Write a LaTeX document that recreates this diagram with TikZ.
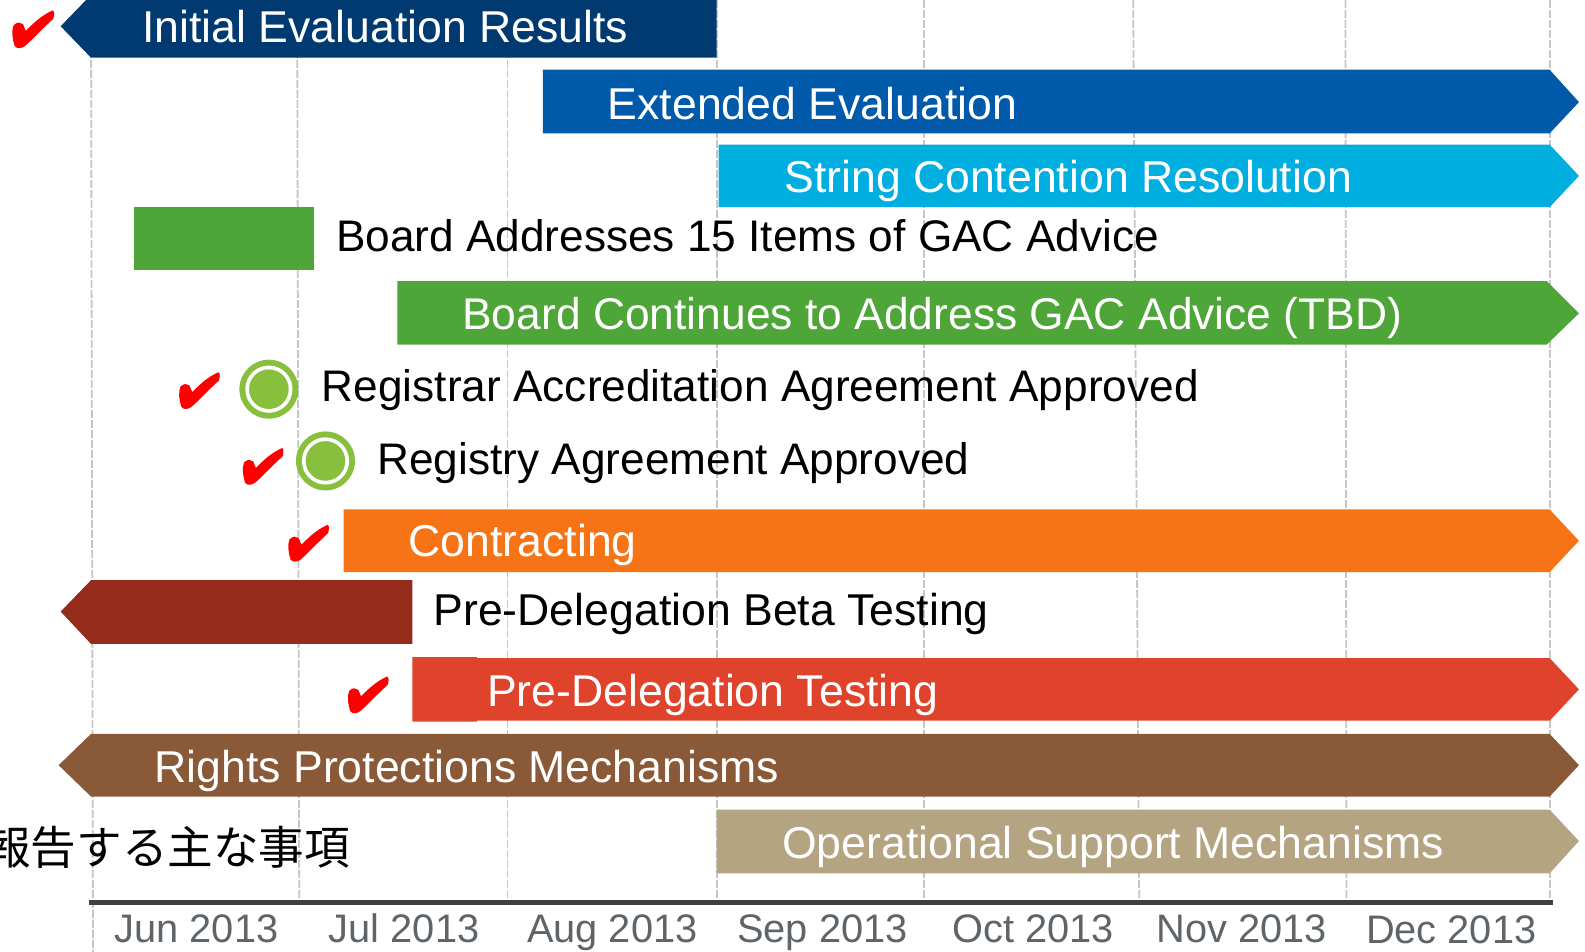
\documentclass[tikz,border=0pt]{standalone}
\usepackage{fontspec}
\setmainfont{Liberation Sans}
\newfontfamily\jpfont{Noto Sans CJK JP}
\definecolor{cInit}{HTML}{003A70}
\definecolor{cExt}{HTML}{0059A9}
\definecolor{cStr}{HTML}{00AEE0}
\definecolor{cGrn}{HTML}{4FA638}
\definecolor{cOrg}{HTML}{F77416}
\definecolor{cBeta}{HTML}{952B1B}
\definecolor{cPre}{HTML}{E0432B}
\definecolor{cRpm}{HTML}{8A5A38}
\definecolor{cOps}{HTML}{B4A482}
\definecolor{cDot}{HTML}{88BF3C}
\definecolor{cGrid}{HTML}{C6C6C6}
\definecolor{cAxis}{HTML}{404040}
\definecolor{cDate}{HTML}{5F6468}
\tikzset{
  x=0.5055pt,y=-0.5055pt,
  gridline/.style={draw=cGrid,line width=0.9pt,dash pattern=on 4pt off 1pt},
  onbar/.style={anchor=base west,inner sep=0pt,text=white,font=\fontsize{22.3pt}{26pt}\selectfont},
  plain/.style={anchor=base west,inner sep=0pt,text=black,font=\fontsize{22.1pt}{26pt}\selectfont},
  datelabel/.style={anchor=base west,inner sep=0pt,text=cDate,font=\fontsize{19.9pt}{24pt}\selectfont},
  tickmark/.style={fill=red,draw=red,line width=0.7pt,line join=round},
  dotouter/.style={circle,fill=cDot,draw=none,minimum size=29.5pt,inner sep=0pt},
  dotring/.style={circle,fill=white,draw=none,minimum size=23.6pt,inner sep=0pt},
  dotinner/.style={circle,fill=cDot,draw=none,minimum size=19.8pt,inner sep=0pt}
}
\newcommand{\chk}[3]{%
  \filldraw[tickmark,shift={(#1,#2)},scale=#3]
    (38,1) .. controls (39,2) and (39,6) .. (38,8)
    .. controls (28,17) and (19,27) .. (11,34)
    .. controls (8,36) and (4,37) .. (2,34)
    .. controls (0,28) and (-1,20) .. (1,15)
    .. controls (4,12) and (7,12) .. (9,14)
    .. controls (10,17) and (11,19) .. (12,21)
    .. controls (19,14) and (27,6) .. (38,1) -- cycle;}
\begin{document}
\begin{tikzpicture}
\useasboundingbox (0,0) rectangle (1568,941.7);
\clip (0,0) rectangle (1568,941.7);
% grid
\draw[gridline] (90,0) -- (92,941.7);
\draw[gridline] (294,0) -- (296,893);
\draw[gridline] (502,0) -- (502,893);
\draw[gridline] (709,0) -- (709,893);
\draw[gridline] (914,0) -- (914,893);
\draw[gridline] (1121,0) -- (1127,893);
\draw[gridline] (1331,0) -- (1332,893);
\draw[gridline] (1533,0) -- (1533,893);
% axis
\draw[cAxis,line width=2.2pt] (88,893) -- (1536,893);
% bars
\fill[cInit] (60,26) -- (90,-5) -- (709,-5) -- (709,57) -- (90,57) -- cycle;
\fill[cExt] (537,69) -- (1533,69) -- (1562,101) -- (1533,132) -- (537,132) -- cycle;
\fill[cStr] (711,143) -- (1533,143) -- (1562,174) -- (1533,205) -- (711,205) -- cycle;
\fill[cGrn] (133,205) rectangle (311,267);
\fill[cGrn] (393,278) -- (1530,278) -- (1562,310) -- (1530,341) -- (393,341) -- cycle;
\fill[cOrg] (340,504) -- (1533,504) -- (1562,535) -- (1533,566) -- (340,566) -- cycle;
\fill[cBeta] (60,605) -- (90,574) -- (408,574) -- (408,637) -- (90,637) -- cycle;
\fill[cPre] (408,650) -- (472,650) -- (472,651) -- (1533,651) -- (1562,682) -- (1533,713) -- (472,713) -- (472,714) -- (408,714) -- cycle;
\fill[cRpm] (58,757) -- (90,726) -- (1533,726) -- (1562,757) -- (1533,788) -- (90,788) -- cycle;
\fill[cOps] (709,801) -- (1533,801) -- (1562,832) -- (1533,864) -- (709,864) -- cycle;
% dots
\node[dotouter] (regA) at (266,385) {};
\node[dotring] (regAr) at (266,385) {};
\node[dotinner] (regAi) at (266,385) {};
\node[dotouter] (regB) at (322,456) {};
\node[dotring] (regBr) at (322,456) {};
\node[dotinner] (regBi) at (322,456) {};
% checks
\chk{13}{10}{1.03}
\chk{178}{368}{1}
\chk{241}{443}{1}
\chk{286}{519}{1}
\chk{345}{669}{1}
% labels
\node[onbar] (tInit) at (140.5,42) {Initial Evaluation Results};
\node[onbar] (tExt) at (601,118) {Extended Evaluation};
\node[onbar] (tStr) at (775.5,190) {String Contention Resolution};
\node[plain] (tGac) at (332,249) {Board Addresses 15 Items of GAC Advice};
\node[onbar,font=\fontsize{22.2pt}{26pt}\selectfont] (tCont) at (457,326) {Board Continues to Address GAC Advice (TBD)};
\node[plain] (tRaa) at (318,397) {Registrar Accreditation Agreement Approved};
\node[plain] (tRa) at (373,469) {Registry Agreement Approved};
\node[onbar] (tCon) at (404,551) {Contracting};
\node[plain,font=\fontsize{22.3pt}{26pt}\selectfont] (tBeta) at (428.5,619) {Pre-Delegation Beta Testing};
\node[onbar] (tPre) at (481.5,699) {Pre-Delegation Testing};
\node[onbar] (tRpm) at (152.5,774) {Rights Protections Mechanisms};
\node[onbar] (tOps) at (773.5,849) {Operational Support Mechanisms};
\node[anchor=base west,inner sep=0pt,text=black,font=\jpfont\fontsize{22.8pt}{26pt}\selectfont] (tJp) at (-15,855) {報告する主な事項};
\node[datelabel] (d1) at (113,932) {Jun 2013};
\node[datelabel] (d2) at (325,932) {Jul 2013};
\node[datelabel] (d3) at (521,932) {Aug 2013};
\node[datelabel] (d4) at (729,932) {Sep 2013};
\node[datelabel] (d5) at (942,932) {Oct 2013};
\node[datelabel] (d6) at (1144,932) {Nov 2013};
\node[datelabel] (d7) at (1351,933) {Dec 2013};
\end{tikzpicture}
\end{document}
